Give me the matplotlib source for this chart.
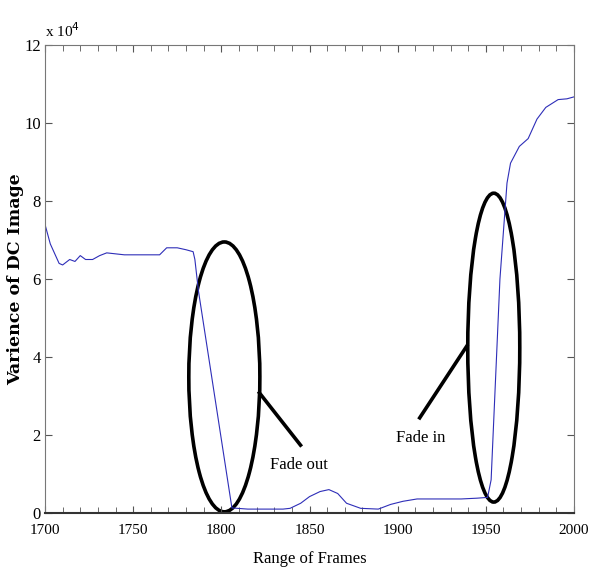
import matplotlib.pyplot as plt
from matplotlib.patches import Ellipse
from matplotlib.ticker import MultipleLocator

# frame numbers and variance of DC image (in units of 1e4)
frames = [1700, 1703, 1706, 1708, 1710, 1714, 1717, 1720, 1723, 1727, 1731, 1735,
          1745, 1755, 1765, 1769, 1775, 1780, 1784, 1785, 1787, 1806, 1815, 1825,
          1835, 1839, 1845, 1850, 1856, 1861, 1866, 1871, 1879, 1889, 1896, 1903,
          1911, 1920, 1936, 1945, 1951, 1953, 1958, 1962, 1964, 1969, 1974, 1979,
          1984, 1991, 1996, 2000]
variance = [7.4, 6.9, 6.6, 6.4, 6.36, 6.5, 6.45, 6.6, 6.5, 6.5, 6.6, 6.67,
            6.62, 6.62, 6.62, 6.8, 6.8, 6.75, 6.7, 6.5, 5.7, 0.13, 0.1, 0.1,
            0.1, 0.12, 0.25, 0.42, 0.55, 0.6, 0.5, 0.25, 0.12, 0.1, 0.22, 0.3,
            0.36, 0.36, 0.36, 0.38, 0.4, 0.85, 6.0, 8.46, 8.97, 9.4, 9.6, 10.1,
            10.4, 10.6, 10.62, 10.67]

# annotation ellipses: (center frame, center value, width frames, height value)
fade_out_ellipse = (1801.7, 3.49, 40.3, 6.92)
fade_in_ellipse = (1954.5, 4.24, 29.5, 7.92)
# pointer lines: (frames), (values)
fade_out_line = ([1821.6, 1844.9], [3.08, 1.74])
fade_in_line = ([1939.2, 1912.5], [4.28, 2.44])

serif = ['Liberation Serif', 'DejaVu Serif']

fig = plt.figure(figsize=(5.9, 5.83), dpi=100)
ax = fig.add_axes([45 / 590, 70 / 583, 529 / 590, 468 / 583])

ax.plot(frames, variance, color='#2e2eb8', lw=0.8)

for cx, cy, w, h in (fade_out_ellipse, fade_in_ellipse):
    ax.add_patch(Ellipse((cx, cy), w, h, fill=False, edgecolor='black', lw=2.6))

ax.plot(*fade_out_line, color='black', lw=2.6)
ax.plot(*fade_in_line, color='black', lw=2.6)

ax.text(1827.8, 1.23, 'Fade out', family=serif, fontsize=12, ha='left', va='center')
ax.text(1898.9, 1.92, 'Fade in', family=serif, fontsize=12, ha='left', va='center')

ax.set_xlim(1700, 2000)
ax.set_ylim(0, 12)
ax.set_xticks([1700, 1750, 1800, 1850, 1900, 1950, 2000])
ax.xaxis.set_minor_locator(MultipleLocator(10))
ax.set_yticks([0, 2, 4, 6, 8, 10, 12])
ax.tick_params(which='both', direction='in', top=True, right=True, color='#555555')
ax.tick_params(which='major', length=5)
ax.tick_params(which='minor', length=4)
ax.tick_params(axis='x', pad=8)
ax.tick_params(axis='y', pad=3)
for lab in ax.get_xticklabels():
    lab.set_family(serif)
    lab.set_fontsize(11)
for lab in ax.get_yticklabels():
    lab.set_family(serif)
    lab.set_fontsize(12)

for side in ['top', 'right', 'left']:
    ax.spines[side].set_color('#777777')
ax.spines['bottom'].set_color('#333333')
ax.spines['bottom'].set_linewidth(1.5)

ax.text(0, 1.01, r'x 10$^4$', transform=ax.transAxes, family=serif, fontsize=11,
        ha='left', va='bottom')

ax.set_xlabel('Range of Frames', family=serif, fontsize=12, labelpad=10)
ax.set_ylabel('Varience of DC Image', family=['DejaVu Serif'], fontweight='bold',
              fontsize=12.5)
ax.yaxis.set_label_coords(-29 / 529, 0.5)
ax.yaxis.label.set_va('center')

fig.savefig('out.png', dpi=100)
